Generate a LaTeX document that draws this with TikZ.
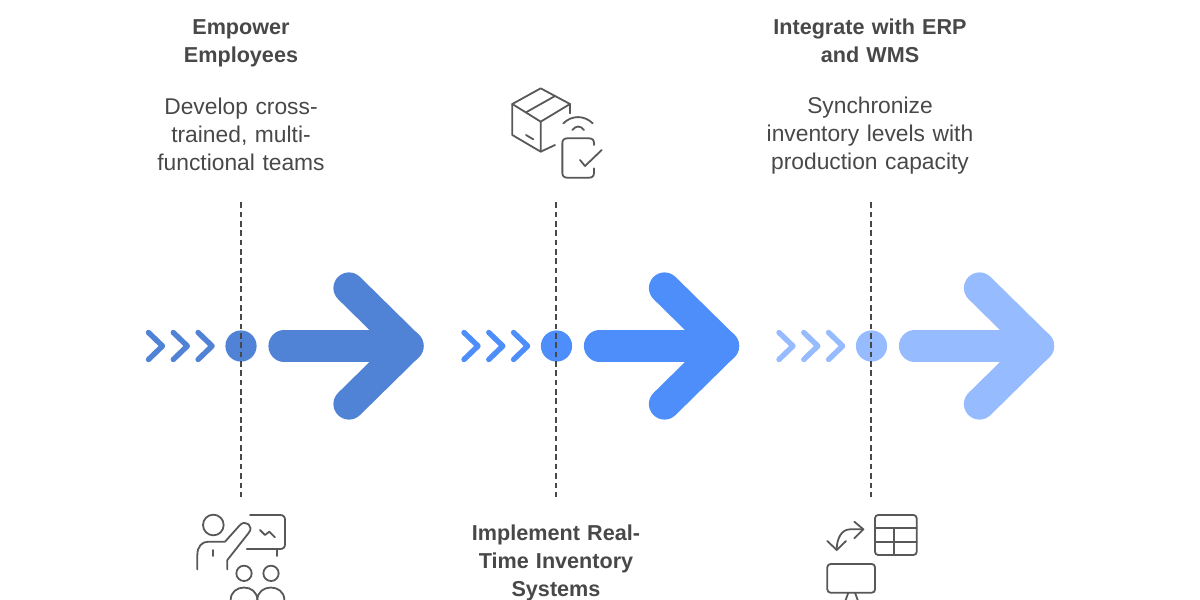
\documentclass[tikz,border=0pt]{standalone}
\usepackage{fontspec}
\setmainfont{Liberation Sans}
\definecolor{txt}{HTML}{484848}
\definecolor{ico}{HTML}{585858}
\definecolor{cA}{HTML}{5082D6}
\definecolor{cB}{HTML}{4D8EFA}
\definecolor{cC}{HTML}{96BBFE}
\tikzset{
  title/.style={font=\fontsize{10.8}{14}\selectfont\bfseries,text=txt,align=center,inner sep=0pt,text width=120pt},
  desc/.style={font=\fontsize{11.4}{14}\selectfont,text=txt,align=center,inner sep=0pt,text width=120pt},
  guide/.style={draw=txt,line width=0.85pt,dash pattern=on 2.8pt off 1.87pt},
  chev/.style={line width=2.7pt,line cap=round,line join=round},
  bigarrow/.style={line width=15.6pt,line cap=round,line join=round},
  icon/.style={draw=ico,line width=0.9pt,line cap=round,line join=round},
}
\begin{document}
\begin{tikzpicture}[x=0.5pt,y=-0.5pt]
\useasboundingbox (0,0) rectangle (1200,600);
\foreach \cx/\col/\n/\gx in {0/cA/a/241,315.5/cB/b/240.5,630.5/cC/c/240.5}{
  \begin{scope}[xshift=\cx*0.5pt]
    \foreach \dx in {0,24.8,49.6}{
      \draw[chev,draw=\col] (148.5+\dx,332.5) -- (162.5+\dx,346) -- (148.5+\dx,359.5);
    }
    \draw[bigarrow,draw=\col] (284,346) -- (408,346);
    \draw[bigarrow,draw=\col] (349,288) -- (408,346) -- (349,404);
    \node[circle,fill=\col,minimum size=15.6pt,inner sep=0pt] (dot\n) at (241,346) {};
    \coordinate (top\n) at (\gx,202.3);
    \coordinate (bot\n) at (\gx,497);
    \draw[guide] (top\n) -- (bot\n);
  \end{scope}
}
\node[title] (t1) at (241,43) {Empower\\Employees};
\node[desc] (d1) at (241,134) {Develop cross-\\trained, multi-\\functional teams};
\node[title] (t2) at (556,563) {Implement Real-\\Time Inventory\\Systems};
\node[title] (t3) at (870,41) {Integrate with ERP\\and WMS};
\node[desc] (d3) at (870,136) {Synchronize\\inventory levels with\\production capacity};
% icon 1
\begin{scope}[shift={(180,500)},x=0.1667pt,y=-0.1667pt]
  \clip (-20,-20) rectangle (400,300);
  \draw[icon] (100,75) circle (31);
  \draw[icon] (52,208) -- (52,165) .. controls (52,140) and (65,125) .. (85,125) -- (135,125) -- (180,75) .. controls (195,58) and (225,78) .. (205,100) -- (142,180) -- (142,208);
  \draw[icon] (100,150) -- (100,168);
  \draw[icon] (210,45) -- (300,45) .. controls (310,45) and (315,50) .. (315,60) -- (315,132) .. controls (315,142) and (310,147) .. (300,147) -- (200,147);
  \draw[icon] (292,150) -- (292,168);
  \draw[icon] (240,90) -- (255,105) -- (268,95) -- (285,112);
  \draw[icon] (192,220) circle (23);
  \draw[icon] (273,220) circle (23);
  \draw[icon] (152,300) .. controls (152,250) and (232,250) .. (232,300);
  \draw[icon] (232,300) .. controls (232,250) and (313,250) .. (313,300);
\end{scope}
% icon 2
\begin{scope}[shift={(500,80)},x=0.1667pt,y=-0.1667pt]
  \draw[icon] (122,25) -- (210,72) -- (122,125) -- (37,72) -- cycle;
  \draw[icon] (37,72) -- (37,165) -- (122,215) -- (122,125);
  \draw[icon] (210,72) -- (210,100);
  \draw[icon] (122,215) -- (165,195);
  \draw[icon] (78,97) -- (165,48);
  \draw[icon] (78,165) -- (100,178);
  \draw[icon] (190,130) .. controls (215,105) and (253,105) .. (278,130);
  \draw[icon] (217,150) .. controls (228,136) and (241,136) .. (252,150);
  \draw[icon] (282,195) -- (282,190) .. controls (282,180) and (277,175) .. (267,175) -- (202,175) .. controls (192,175) and (187,180) .. (187,190) -- (187,278) .. controls (187,288) and (192,293) .. (202,293) -- (267,293) .. controls (277,293) and (282,288) .. (282,278) -- (282,265);
  \draw[icon] (240,240) -- (255,258) -- (305,210);
\end{scope}
% icon 3
\begin{scope}[shift={(810,500)},x=0.1667pt,y=-0.1667pt]
  \clip (-20,-20) rectangle (400,300);
  \draw[icon,rounded corners=1.6pt] (195,45) rectangle (320,165);
  \draw[icon] (195,85) -- (320,85);
  \draw[icon] (195,125) -- (320,125);
  \draw[icon] (252,85) -- (252,165);
  \draw[icon] (160,88) -- (120,88) .. controls (95,88) and (80,115) .. (80,150);
  \draw[icon] (133,65) -- (160,88) -- (133,115);
  \draw[icon] (52,123) -- (80,150) -- (108,123);
  \draw[icon,rounded corners=1.6pt] (52,192) rectangle (195,278);
  \draw[icon] (115,278) -- (107,300);
  \draw[icon] (135,278) -- (143,300);
\end{scope}
\end{tikzpicture}
\end{document}
